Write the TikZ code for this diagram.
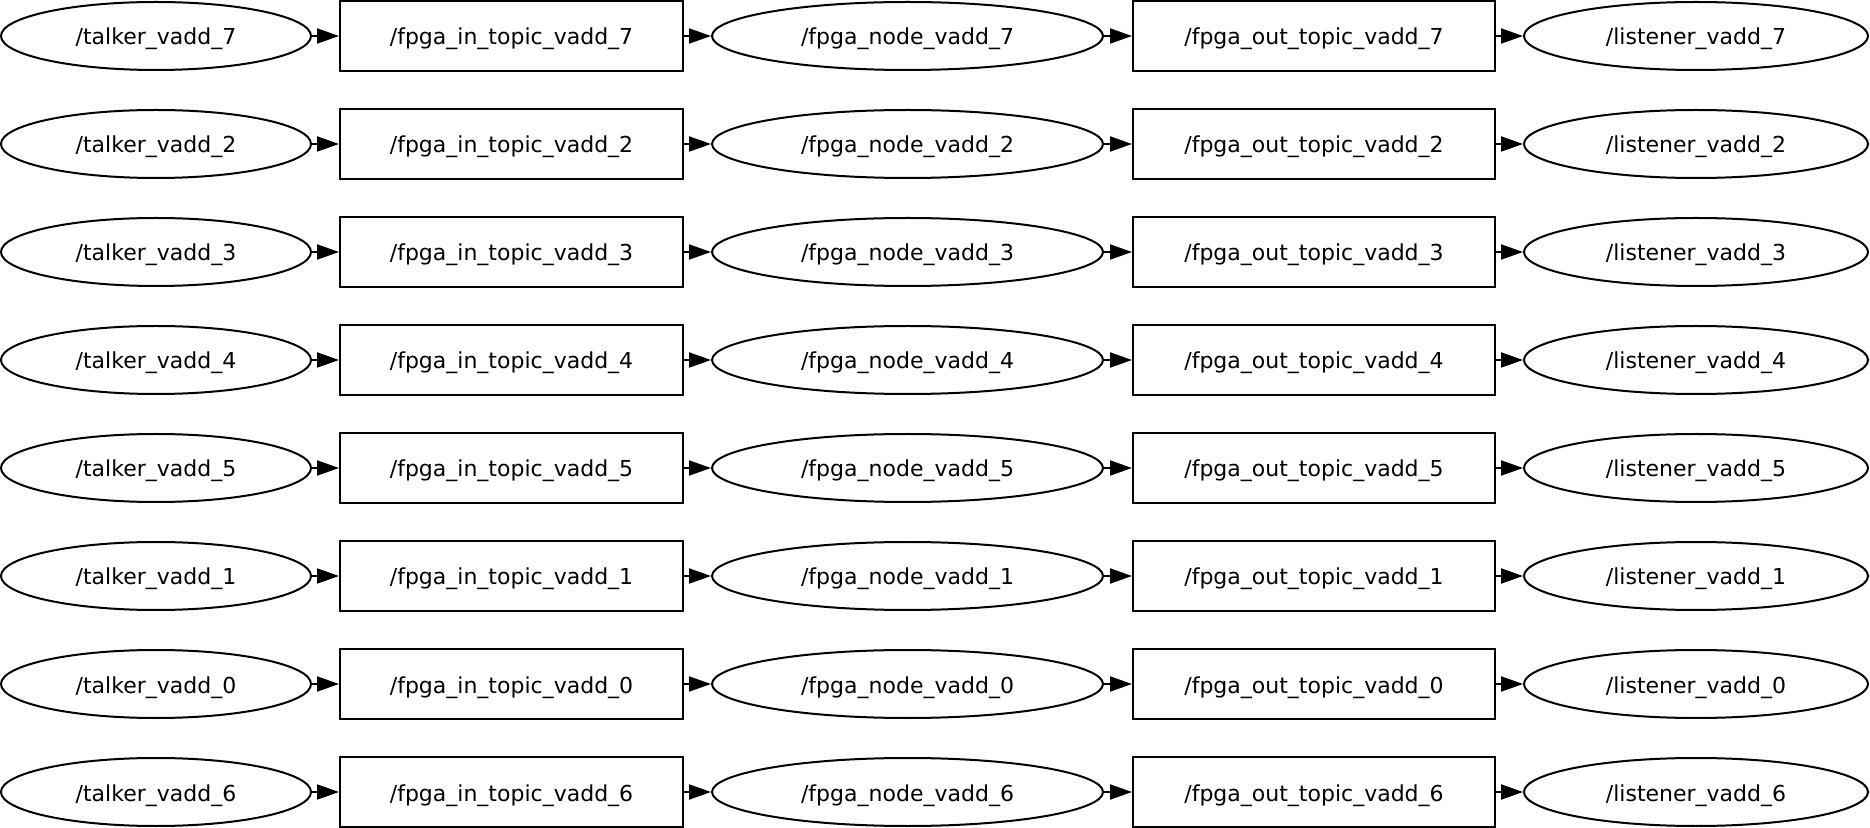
\documentclass[tikz,border=0pt]{standalone}
\usepackage{fontspec}
\setmainfont{DejaVu Sans}
\usetikzlibrary{shapes.geometric,arrows.meta}
\tikzset{
	procnode/.style={draw, ellipse, line width=1pt, inner sep=0pt, minimum height=34pt, text height=11.6pt, text depth=2.6pt, font=\fontsize{11}{13}\selectfont},
	topicbox/.style={draw, rectangle, line width=1pt, inner sep=0pt, minimum height=35pt, text height=11.6pt, text depth=2.6pt, font=\fontsize{11}{13}\selectfont},
	link/.style={line width=1pt, -{Triangle[length=11pt,width=7.5pt]}}
}
\begin{document}
\begin{tikzpicture}[x=0.5pt, y=-0.5pt]
		\useasboundingbox (0,0) rectangle (1870,828);

		% строки: номер строки / номер vadd
		\foreach \row/\idx in {0/7,1/2,2/3,3/4,4/5,5/1,6/0,7/6}{
			\pgfmathsetmacro{\ypos}{36+108*\row}
			% узлы
			\node [procnode, minimum width=155pt] (talker\idx) at ( 156.0, \ypos ) {/talker\_vadd\_\idx};
			\node [topicbox, minimum width=171.5pt] (intopic\idx) at ( 511.5, \ypos ) {/fpga\_in\_topic\_vadd\_\idx};
			\node [procnode, minimum width=195.5pt] (fpga\idx) at ( 907.5, \ypos ) {/fpga\_node\_vadd\_\idx};
			\node [topicbox, minimum width=181pt] (outtopic\idx) at ( 1314.0, \ypos ) {/fpga\_out\_topic\_vadd\_\idx};
			\node [procnode, minimum width=172pt] (listener\idx) at ( 1696.0, \ypos ) {/listener\_vadd\_\idx};

			% связи
			\draw [link] (talker\idx) -- (intopic\idx);
			\draw [link] (intopic\idx) -- (fpga\idx);
			\draw [link] (fpga\idx) -- (outtopic\idx);
			\draw [link] (outtopic\idx) -- (listener\idx);
		}
	\end{tikzpicture}
\end{document}
